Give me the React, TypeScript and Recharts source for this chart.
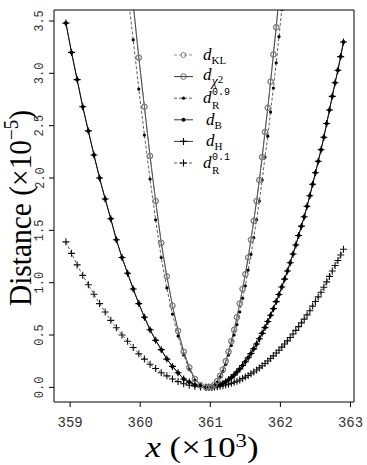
import React from "react";
import { LineChart, Line, XAxis, YAxis, ReferenceArea, Legend } from "recharts";

// x grid (x10^3): coarse on the left of the minimum, finer on the right
const xs = [
  358.94, 359.02, 359.1, 359.18, 359.26, 359.34, 359.42, 359.5, 359.58, 359.66,
  359.74, 359.82, 359.9, 359.98, 360.06, 360.14, 360.22, 360.3, 360.38, 360.46,
  360.54, 360.62, 360.7, 360.78, 360.86, 360.94,
  360.98, 361.02, 361.06, 361.1, 361.14, 361.18, 361.22, 361.26, 361.3, 361.34,
  361.38, 361.42, 361.46, 361.5, 361.54, 361.58, 361.62, 361.66, 361.7, 361.74,
  361.78, 361.82, 361.86, 361.9, 361.94, 361.98, 362.02, 362.06, 362.1, 362.14,
  362.18, 362.22, 362.26, 362.3, 362.34, 362.38, 362.42, 362.46, 362.5, 362.54,
  362.58, 362.62, 362.66, 362.7, 362.74, 362.78, 362.82, 362.86, 362.9,
];

// distances (x10^-5)
const dChi2 = [
  null, null, null, null, null, null, null, null, null, null,
  null, 4.2, 3.66, 3.15, 2.68, 2.21, 1.78, 1.38, 1.06, 0.78,
  0.54, 0.34, 0.19, 0.08, 0.02, 0.0,
  0.0, 0.005, 0.025, 0.06, 0.11, 0.17, 0.25, 0.34, 0.44, 0.55,
  0.67, 0.8, 0.94, 1.08, 1.24, 1.41, 1.59, 1.78, 1.98, 2.2,
  2.44, 2.67, 2.92, 3.18, 3.44, 3.72, 4.0, null, null, null,
  null, null, null, null, null, null, null, null, null, null,
  null, null, null, null, null, null, null, null, null,
];
const dKL = dChi2;
const dR09 = [
  null, null, null, null, null, null, null, null, null, null,
  4.35, 3.78, 3.32, 2.85, 2.41, 1.99, 1.6, 1.24, 0.95, 0.7,
  0.49, 0.31, 0.17, 0.07, 0.02, 0.0,
  0.0, 0.005, 0.02, 0.05, 0.1, 0.15, 0.22, 0.31, 0.4, 0.5,
  0.6, 0.72, 0.85, 0.97, 1.12, 1.27, 1.43, 1.6, 1.78, 1.98,
  2.2, 2.4, 2.63, 2.86, 3.1, 3.35, 3.61, 3.88, null, null,
  null, null, null, null, null, null, null, null, null, null,
  null, null, null, null, null, null, null, null, null,
];
const dB = [
  3.48, 3.2, 2.94, 2.68, 2.45, 2.22, 2.0, 1.8, 1.61, 1.41,
  1.24, 1.09, 0.94, 0.8, 0.67, 0.55, 0.45, 0.36, 0.27, 0.2,
  0.14, 0.08, 0.05, 0.025, 0.008, 0.0,
  0.0, 0.002, 0.007, 0.015, 0.025, 0.038, 0.054, 0.073, 0.095, 0.119,
  0.146, 0.176, 0.209, 0.244, 0.283, 0.324, 0.368, 0.414, 0.464, 0.516,
  0.571, 0.629, 0.689, 0.752, 0.819, 0.887, 0.959, 1.034, 1.111, 1.191,
  1.274, 1.36, 1.45, 1.54, 1.63, 1.73, 1.83, 1.94, 2.05, 2.16,
  2.27, 2.39, 2.52, 2.65, 2.78, 2.91, 3.03, 3.16, 3.3,
];
const dH = dB;
const dR01 = [
  1.39, 1.28, 1.17, 1.07, 0.98, 0.89, 0.8, 0.72, 0.64, 0.57,
  0.5, 0.44, 0.38, 0.32, 0.27, 0.22, 0.18, 0.14, 0.11, 0.08,
  0.055, 0.035, 0.02, 0.01, 0.003, 0.0,
  0.0, 0.001, 0.003, 0.006, 0.01, 0.015, 0.022, 0.029, 0.038, 0.048,
  0.058, 0.07, 0.084, 0.098, 0.113, 0.13, 0.147, 0.166, 0.186, 0.206,
  0.228, 0.252, 0.276, 0.301, 0.328, 0.355, 0.384, 0.414, 0.444, 0.476,
  0.51, 0.544, 0.58, 0.616, 0.652, 0.692, 0.732, 0.776, 0.82, 0.864,
  0.908, 0.956, 1.008, 1.06, 1.112, 1.164, 1.212, 1.264, 1.32,
];

const xTicks = [359, 360, 361, 362, 363];
const yTicks = [0, 0.5, 1, 1.5, 2, 2.5, 3, 3.5];
const xDomain = [358.77, 363.05];
const yDomain = [-0.14, 3.605];

const data = xs.map((x, i) => ({
  x,
  kl: dKL[i],
  chi2: dChi2[i],
  r09: dR09[i],
  b: dB[i],
  h: dH[i],
  r01: dR01[i],
}));

const mono = "'Liberation Mono', monospace";
const serif = "'Liberation Serif', serif";

function openCircle(r: number, stroke: string) {
  return (p: any) =>
    p.cx == null || p.cy == null ? (
      <g key={"c" + p.index} />
    ) : (
      <circle key={"c" + p.index} cx={p.cx} cy={p.cy} r={r} fill="none" stroke={stroke} strokeWidth={0.9} />
    );
}
function filledDot(r: number) {
  return (p: any) =>
    p.cx == null || p.cy == null ? (
      <g key={"d" + p.index} />
    ) : (
      <circle key={"d" + p.index} cx={p.cx} cy={p.cy} r={r} fill="#000" />
    );
}
function plus(s: number, stroke: string) {
  return (p: any) =>
    p.cx == null || p.cy == null ? (
      <g key={"p" + p.index} />
    ) : (
      <path
        key={"p" + p.index}
        d={`M${p.cx - s},${p.cy}H${p.cx + s}M${p.cx},${p.cy - s}V${p.cy + s}`}
        stroke={stroke}
        strokeWidth={1.1}
      />
    );
}

const XTick = (p: any) => (
  <text x={p.x} y={p.y + 20} textAnchor="middle" fontFamily={mono} fontSize={14} fill="#333">
    {p.payload.value}
  </text>
);
const YTick = (p: any) => (
  <text
    x={43.5}
    y={p.y}
    transform={`rotate(-90 43.5 ${p.y})`}
    textAnchor="middle"
    fontFamily={mono}
    fontSize={12}
    fill="#333"
  >
    {p.payload.value.toFixed(1)}
  </text>
);

const YTitle = () => (
  <text transform="translate(31,208) rotate(-90) scale(0.95,1)" textAnchor="middle" fontFamily={serif} fontSize={31} fill="#000">
    Distance (×10<tspan fontSize={20} dy={-13}>−5</tspan>
    <tspan dy={13}>)</tspan>
  </text>
);
const XTitle = () => (
  <text transform="translate(202,457) scale(1.2,1)" textAnchor="middle" fontFamily={serif} fontSize={29} fill="#000">
    <tspan fontStyle="italic">x</tspan> (×10<tspan fontSize={19} dy={-10}>3</tspan>
    <tspan dy={10}>)</tspan>
  </text>
);

const rows = [55, 76.6, 98.2, 119.8, 141.4, 163];

function LegendBox() {
  const lx1 = 174;
  const lx2 = 193;
  const mx = 183.5;
  const tx = 203;
  return (
    <svg width={110} height={140} style={{ display: "block" }}>
      <g transform="translate(-168,-42)">
        {/* KL */}
        <line x1={lx1} x2={lx2} y1={rows[0]} y2={rows[0]} stroke="#777" strokeWidth={0.8} strokeDasharray="3 2" />
        <circle cx={mx} cy={rows[0]} r={2.5} fill="none" stroke="#777" strokeWidth={0.9} />
        <text x={tx} y={rows[0] + 5} fontFamily={serif} fontSize={17}>
          <tspan fontStyle="italic">d</tspan>
          <tspan fontSize={11} dy={4}>KL</tspan>
        </text>
        {/* chi2 */}
        <line x1={lx1} x2={lx2} y1={rows[1]} y2={rows[1]} stroke="#000" strokeWidth={0.8} />
        <circle cx={mx} cy={rows[1]} r={2.8} fill="none" stroke="#555" strokeWidth={0.9} />
        <text x={tx} y={rows[1] + 3} fontFamily={serif} fontSize={17}>
          <tspan fontStyle="italic">d</tspan>
          <tspan fontSize={14} fontStyle="italic" dy={6}>χ</tspan>
          <tspan fontSize={11} dy={-3}>2</tspan>
        </text>
        {/* R 0.9 */}
        <line x1={lx1} x2={lx2} y1={rows[2]} y2={rows[2]} stroke="#333" strokeWidth={0.8} strokeDasharray="3 2" />
        <circle cx={mx} cy={rows[2]} r={1.6} fill="#000" />
        <text x={tx} y={rows[2] + 5} fontFamily={serif} fontSize={17}>
          <tspan fontStyle="italic">d</tspan>
        </text>
        <text x={tx + 9} y={rows[2] - 3} fontFamily={mono} fontSize={10}>0.9</text>
        <text x={tx + 9} y={rows[2] + 11} fontFamily={serif} fontSize={11}>R</text>
        {/* B */}
        <line x1={lx1} x2={lx2} y1={rows[3]} y2={rows[3]} stroke="#000" strokeWidth={0.8} />
        <circle cx={mx} cy={rows[3]} r={2} fill="#000" />
        <text x={tx + 3} y={rows[3] + 5} fontFamily={serif} fontSize={17}>
          <tspan fontStyle="italic">d</tspan>
          <tspan fontSize={11} dy={4}>B</tspan>
        </text>
        {/* H */}
        <line x1={lx1} x2={lx2} y1={rows[4]} y2={rows[4]} stroke="#000" strokeWidth={0.8} />
        <path d={`M${mx - 3.5},${rows[4]}H${mx + 3.5}M${mx},${rows[4] - 3.5}V${rows[4] + 3.5}`} stroke="#000" strokeWidth={1.1} />
        <text x={tx + 3} y={rows[4] + 5} fontFamily={serif} fontSize={17}>
          <tspan fontStyle="italic">d</tspan>
          <tspan fontSize={11} dy={4}>H</tspan>
        </text>
        {/* R 0.1 */}
        <line x1={lx1} x2={lx2} y1={rows[5]} y2={rows[5]} stroke="#333" strokeWidth={0.8} strokeDasharray="3 2" />
        <path d={`M${mx - 3.5},${rows[5]}H${mx + 3.5}M${mx},${rows[5] - 3.5}V${rows[5] + 3.5}`} stroke="#000" strokeWidth={1.1} />
        <text x={tx} y={rows[5] + 5} fontFamily={serif} fontSize={17}>
          <tspan fontStyle="italic">d</tspan>
        </text>
        <text x={tx + 9} y={rows[5] - 3} fontFamily={mono} fontSize={10}>0.1</text>
        <text x={tx + 9} y={rows[5] + 11} fontFamily={serif} fontSize={11}>R</text>
      </g>
    </svg>
  );
}

export default function App() {
  return (
    <div style={{ position: "absolute", left: 0, top: 0, background: "#fff" }}>
      <LineChart width={367} height={465} data={data} margin={{ top: 10, right: 13, bottom: 33, left: 14 }}>
        <XAxis
          dataKey="x"
          type="number"
          domain={xDomain}
          ticks={xTicks}
          allowDataOverflow
          height={30}
          axisLine={false}
          tickSize={5}
          tickMargin={0}
          tickLine={{ stroke: "#000" }}
          tick={<XTick />}
          label={<XTitle />}
        />
        <YAxis
          type="number"
          domain={yDomain}
          ticks={yTicks}
          allowDataOverflow
          width={40}
          axisLine={false}
          tickSize={5}
          tickMargin={0}
          tickLine={{ stroke: "#000" }}
          tick={<YTick />}
          label={<YTitle />}
        />
        <ReferenceArea x1={xDomain[0]} x2={xDomain[1]} y1={yDomain[0]} y2={yDomain[1]} fill="none" stroke="#000" strokeWidth={1} fillOpacity={0} />
        <Line dataKey="r01" stroke="#333" strokeWidth={0.8} strokeDasharray="3 2" dot={plus(3.5, "#111")} activeDot={false} isAnimationActive={false} />
        <Line dataKey="h" stroke="#000" strokeWidth={0.8} dot={plus(3.5, "#000")} activeDot={false} isAnimationActive={false} />
        <Line dataKey="b" stroke="#000" strokeWidth={0.8} dot={filledDot(2)} activeDot={false} isAnimationActive={false} />
        <Line dataKey="r09" stroke="#333" strokeWidth={0.8} strokeDasharray="3 2" dot={filledDot(1.6)} activeDot={false} isAnimationActive={false} />
        <Line dataKey="chi2" stroke="#000" strokeWidth={0.8} dot={openCircle(2.8, "#555")} activeDot={false} isAnimationActive={false} />
        <Line dataKey="kl" stroke="#777" strokeWidth={0.8} strokeDasharray="3 2" dot={openCircle(2.5, "#888")} activeDot={false} isAnimationActive={false} />
        <Legend
          layout="vertical"
          align="center"
          verticalAlign="middle"
          content={() => <LegendBox />}
          wrapperStyle={{ left: 168, top: 42, width: 110, height: 140 }}
        />
      </LineChart>
    </div>
  );
}
